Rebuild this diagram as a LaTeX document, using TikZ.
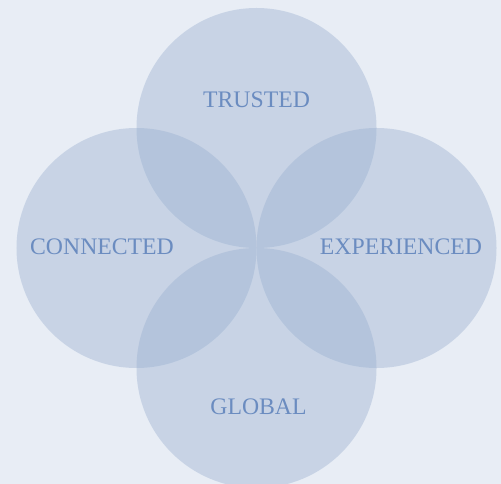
\documentclass[tikz,border=0pt]{standalone}
\usepackage{fontspec}
\setmainfont{Liberation Serif}
\usepackage{tikz}
\usetikzlibrary{positioning}
\definecolor{pagebg}{HTML}{E8EDF5}
\definecolor{petal}{HTML}{98AECF}
\definecolor{petaltext}{HTML}{6B8CC0}

\begin{document}
\begin{tikzpicture}[
	petalcircle/.style={circle, fill=petal, fill opacity=0.4, minimum size=4.8cm, inner sep=0pt},
	petallabel/.style={text=petaltext, font=\fontsize{13.5}{16}\selectfont, inner sep=0pt}
	]
			\fill[pagebg] (0,0) rectangle (10.02,-9.68);
			\useasboundingbox (0,0) rectangle (10.02,-9.68);
			\clip (0,0) rectangle (10.02,-9.68);
			
			\node[petalcircle] (trusted) at (5.13,-2.56) {};
			\node[petalcircle] (connected) at (2.73,-4.96) {};
			\node[petalcircle] (experienced) at (7.53,-4.96) {};
			\node[petalcircle] (global) at (5.13,-7.36) {};
			
			\node[petallabel] (trustedtext) at ([yshift=0.57cm]trusted.center) {TRUSTED};
			\node[petallabel] (connectedtext) at ([xshift=-0.69cm, yshift=0.02cm]connected.center) {CONNECTED};
			\node[petallabel] (experiencedtext) at ([xshift=0.49cm, yshift=0.02cm]experienced.center) {EXPERIENCED};
			\node[petallabel] (globaltext) at ([xshift=0.04cm, yshift=-0.78cm]global.center) {GLOBAL};
		\end{tikzpicture}
\end{document}
